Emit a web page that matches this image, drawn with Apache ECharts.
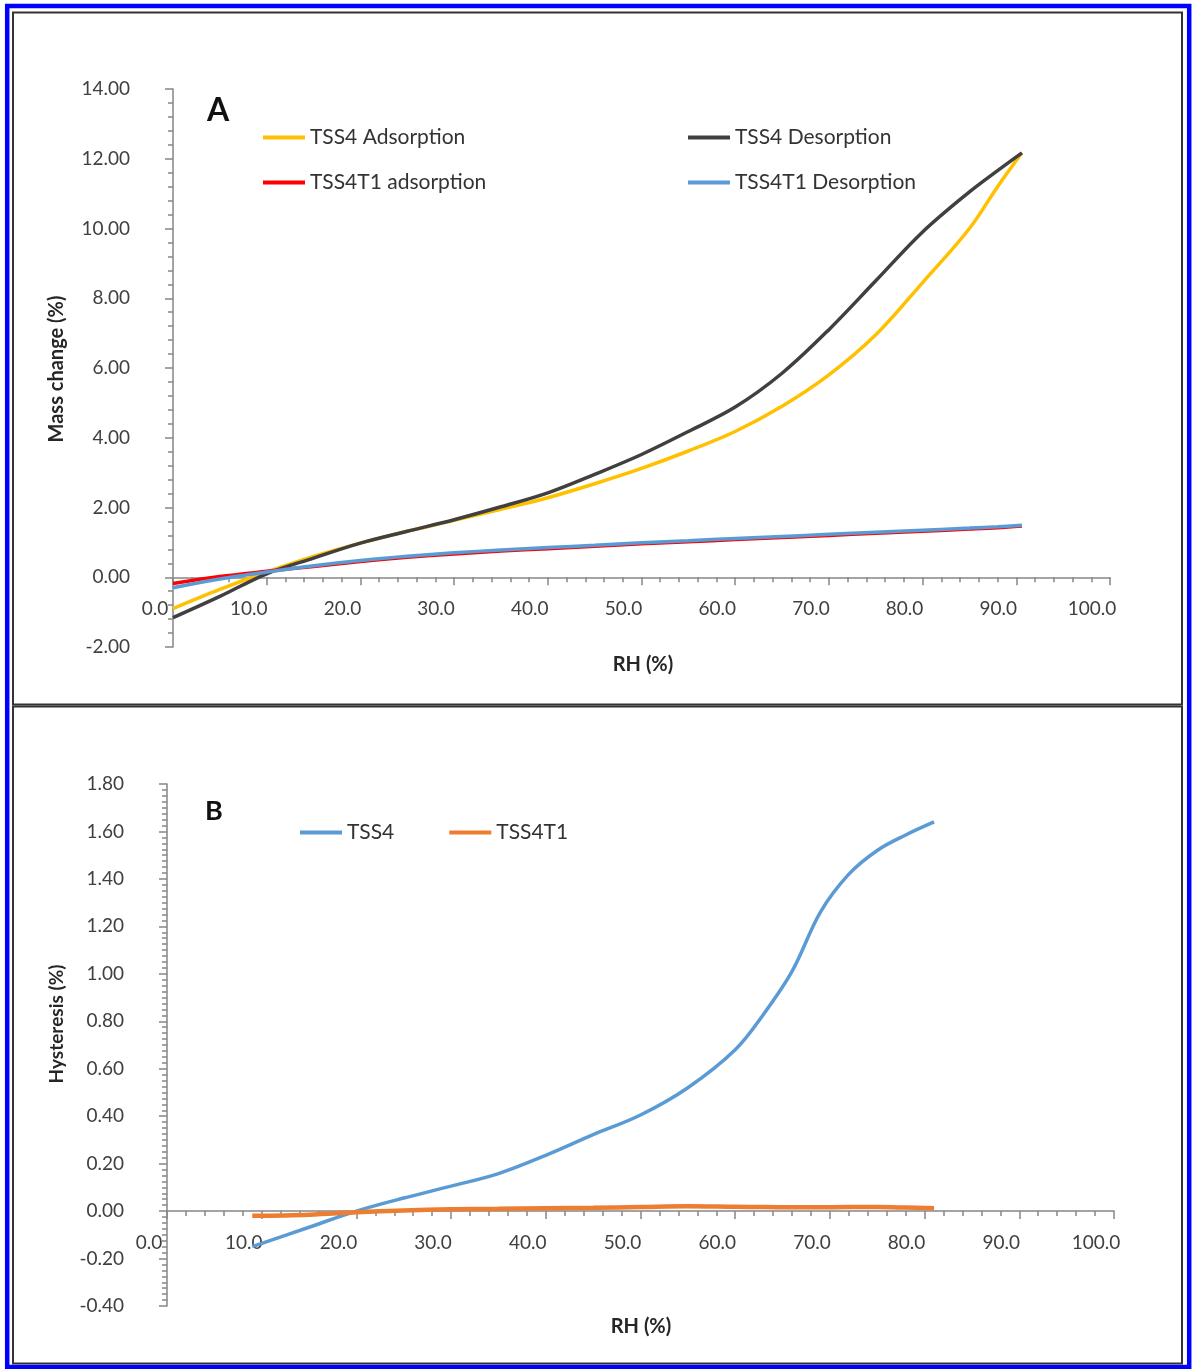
<!DOCTYPE html>
<html>
<head>
<meta charset="utf-8">
<script src="https://cdn.jsdelivr.net/npm/echarts@6/dist/echarts.min.js"></script>
<style>
html,body{margin:0;padding:0;background:#fff;}
#chart{width:1193px;height:1369px;}
</style>
</head>
<body>
<div id="chart"></div>
<script>
// ---- Panel A data (RH %, mass change %) ----
const rhA = [0, 5, 10, 15, 20, 25, 30, 35, 40, 45, 50, 55, 60, 65, 70, 75, 80, 85, 88, 90.6];
const tss4Ads = [-0.90, -0.35, 0.15, 0.60, 0.98, 1.32, 1.63, 1.95, 2.28, 2.68, 3.12, 3.62, 4.18, 4.90, 5.80, 6.95, 8.45, 10.00, 11.20, 12.17];
const tss4Des = [-1.16, -0.55, 0.10, 0.55, 0.98, 1.32, 1.65, 2.02, 2.42, 2.95, 3.52, 4.18, 4.88, 5.85, 7.10, 8.50, 9.90, 11.05, 11.66, 12.17];
const tss4t1Ads = [-0.18, 0.02, 0.17, 0.31, 0.45, 0.57, 0.67, 0.75, 0.82, 0.89, 0.96, 1.02, 1.08, 1.14, 1.20, 1.26, 1.32, 1.38, 1.42, 1.47];
const tss4t1Des = [-0.30, -0.05, 0.15, 0.33, 0.48, 0.60, 0.70, 0.78, 0.85, 0.92, 0.99, 1.05, 1.11, 1.17, 1.23, 1.29, 1.35, 1.41, 1.45, 1.49];

// ---- Panel B data (RH %, hysteresis %) ----
const rhB = [9, 15, 20, 25, 30, 35, 40, 45, 50, 55, 60, 63, 66, 69, 72, 75, 78, 81];
const hystTss4 = [-0.15, -0.068, 0.0, 0.055, 0.105, 0.158, 0.235, 0.322, 0.405, 0.52, 0.68, 0.83, 1.01, 1.26, 1.42, 1.52, 1.585, 1.64];
const hystTss4t1 = [-0.02, -0.015, -0.005, 0.003, 0.008, 0.010, 0.012, 0.014, 0.017, 0.020, 0.018, 0.017, 0.016, 0.016, 0.017, 0.017, 0.015, 0.012];

// ---- labels ----
const namesA = ['TSS4 Adsorption', 'TSS4 Desorption', 'TSS4T1 adsorption', 'TSS4T1 Desorption'];
const namesB = ['TSS4', 'TSS4T1'];
const xTitle = 'RH (%)';
const yTitleA = 'Mass change (%)';
const yTitleB = 'Hysteresis (%)';

const FONT = 'Lato, "Open Sans", sans-serif';
const AX = '#868686';
const TXT = '#404040';

// grid layout (pixels)
const gridA = { left: 173, top: 89, width: 937, height: 558 };
const gridB = { left: 167, top: 784, width: 947, height: 522 };
const yRangeA = [-2, 14];
const yRangeB = [-0.4, 1.8];

function pairs(xs, ys) { return xs.map((x, i) => [x, ys[i]]); }

// place the x axis on the zero line of the y range
function zeroOffset(grid, range) {
  return -grid.height * (0 - range[0]) / (range[1] - range[0]);
}

function xAxisCfg(gridIndex, offset) {
  return {
    type: 'value', gridIndex, min: 0, max: 100, interval: 10, offset,
    axisLine: { show: true, onZero: false, lineStyle: { color: AX, width: 1.5 } },
    axisTick: { show: true, length: 8, lineStyle: { color: AX, width: 1.5 } },
    minorTick: { show: true, splitNumber: 5, length: 5, lineStyle: { color: AX, width: 1.5 } },
    splitLine: { show: false },
    axisLabel: {
      color: TXT, fontFamily: FONT, fontSize: 19, margin: 22,
      padding: [0, 36, 0, 0],
      formatter: v => v.toFixed(1)
    }
  };
}
function yAxisCfg(gridIndex, range, interval, minorSplit, digits) {
  return {
    type: 'value', gridIndex, min: range[0], max: range[1], interval,
    axisLine: { show: true, onZero: false, lineStyle: { color: AX, width: 1.5 } },
    axisTick: { show: true, length: 8, lineStyle: { color: AX, width: 1.5 } },
    minorTick: { show: true, splitNumber: minorSplit, length: 5, lineStyle: { color: AX, width: 1.5 } },
    splitLine: { show: false },
    axisLabel: {
      color: TXT, fontFamily: FONT, fontSize: 19, margin: 43,
      formatter: v => v.toFixed(digits)
    }
  };
}
function lineSeries(name, xi, yi, xs, ys, color, width) {
  return {
    name, type: 'line', xAxisIndex: xi, yAxisIndex: yi,
    data: pairs(xs, ys), smooth: 0.35, showSymbol: false, symbol: 'none',
    lineStyle: { color, width }, itemStyle: { color },
    emphasis: { disabled: true }, animation: false
  };
}

const chart = echarts.init(document.getElementById('chart'), null, { renderer: 'canvas' });

const legendBase = {
  icon: 'rect', itemWidth: 42, itemHeight: 4, padding: 0,
  textStyle: { color: '#333333', fontFamily: FONT, fontSize: 21 },
  selectedMode: false
};

chart.setOption({
  backgroundColor: '#ffffff',
  animation: false,
  grid: [gridA, gridB],
  xAxis: [xAxisCfg(0, zeroOffset(gridA, yRangeA)), xAxisCfg(1, zeroOffset(gridB, yRangeB))],
  yAxis: [
    yAxisCfg(0, yRangeA, 2, 5, 2),
    yAxisCfg(1, yRangeB, 0.2, 8, 2)
  ],
  legend: [
    Object.assign({}, legendBase, { orient: 'vertical', left: 263, top: 127, itemGap: 24, data: [namesA[0], namesA[2]] }),
    Object.assign({}, legendBase, { orient: 'vertical', left: 688, top: 127, itemGap: 24, data: [namesA[1], namesA[3]] }),
    Object.assign({}, legendBase, { orient: 'horizontal', left: 300, top: 822, itemGap: 55, data: namesB })
  ],
  series: [
    lineSeries(namesA[0], 0, 0, rhA, tss4Ads, '#FFC000', 3.5),
    lineSeries(namesA[1], 0, 0, rhA, tss4Des, '#404040', 3.5),
    lineSeries(namesA[2], 0, 0, rhA, tss4t1Ads, '#FF0000', 3.5),
    lineSeries(namesA[3], 0, 0, rhA, tss4t1Des, '#5B9BD5', 3.5),
    lineSeries(namesB[0], 1, 1, rhB, hystTss4, '#5B9BD5', 3.5),
    lineSeries(namesB[1], 1, 1, rhB, hystTss4t1, '#ED7D31', 4.5)
  ],
  graphic: [
    { type: 'rect', z: 0, silent: true, shape: { x: 7.2, y: 6, width: 1182, height: 1361 },
      style: { fill: 'none', stroke: '#0000FF', lineWidth: 4.5 } },
    { type: 'rect', z: 0, silent: true, shape: { x: 13, y: 12.5, width: 1169, height: 692 },
      style: { fill: 'none', stroke: '#333333', lineWidth: 2 } },
    { type: 'rect', z: 0, silent: true, shape: { x: 13, y: 706.5, width: 1169, height: 657 },
      style: { fill: 'none', stroke: '#333333', lineWidth: 2 } },
    { type: 'text', silent: true, x: 218, y: 111,
      style: { text: 'A', font: 'bold 32px ' + FONT, fill: '#111', textAlign: 'center', textVerticalAlign: 'middle' } },
    { type: 'text', silent: true, x: 214, y: 811,
      style: { text: 'B', font: 'bold 27px ' + FONT, fill: '#111', textAlign: 'center', textVerticalAlign: 'middle' } },
    { type: 'text', silent: true, x: 57, y: 369, rotation: Math.PI / 2,
      style: { text: yTitleA, font: 'bold 20px ' + FONT, fill: '#262626', textAlign: 'center', textVerticalAlign: 'middle' } },
    { type: 'text', silent: true, x: 643, y: 665,
      style: { text: xTitle, font: 'bold 20px ' + FONT, fill: '#262626', textAlign: 'center', textVerticalAlign: 'middle' } },
    { type: 'text', silent: true, x: 57, y: 1024, rotation: Math.PI / 2,
      style: { text: yTitleB, font: 'bold 19px ' + FONT, fill: '#262626', textAlign: 'center', textVerticalAlign: 'middle' } },
    { type: 'text', silent: true, x: 641, y: 1327,
      style: { text: xTitle, font: 'bold 20px ' + FONT, fill: '#262626', textAlign: 'center', textVerticalAlign: 'middle' } }
  ]
});
</script>
</body>
</html>
